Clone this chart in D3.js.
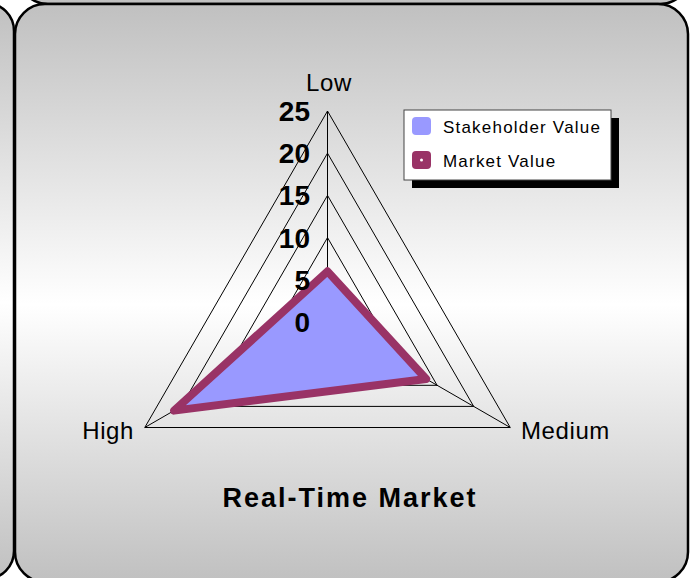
<!DOCTYPE html>
<html lang="en">
<head>
    <meta charset="utf-8">
    <title>Real-Time Market</title>
    <style>
        body { margin: 0; background: #ffffff; }
        svg { display: block; font-family: "Liberation Sans", Arial, sans-serif; }
    </style>
</head>
<body>
    <script src="https://d3js.org/d3.v7.min.js"></script>
    <script>
    // values
    var axes = ["Low", "Medium", "High"];
    var stakeholder = [5.5, 14, 20];
    var market = [6, 13.5, 21];
    var ticks = [0, 5, 10, 15, 20, 25];
    var seriesNames = ["Stakeholder Value", "Market Value"];
    var seriesColors = ["#9999ff", "#993366"];
    var title = "Real-Time Market";

    var size = {"width": 691, "height": 578};
    var center = [327.5, 322];

    var svg = d3.select("body").append("svg")
                .attr("width", size.width)
                .attr("height", size.height);

    var grad = svg.append("defs").append("linearGradient")
                  .attr("id", "bg")
                  .attr("x1", 0).attr("y1", 0)
                  .attr("x2", 0).attr("y2", 1);
    grad.append("stop").attr("offset", "0%").attr("stop-color", "#c0c0c0");
    grad.append("stop").attr("offset", "52%").attr("stop-color", "#ffffff");
    grad.append("stop").attr("offset", "100%").attr("stop-color", "#c0c0c0");

    // neighbouring panels peeking in, then the main one
    var panels = [
        {x: -680, y: 3, w: 694, h: 576, r: 28},
        {x: 18, y: -600, w: 672, h: 604, r: 30},
        {x: 15, y: 4, w: 673, h: 578, r: 30}
    ];
    svg.selectAll(".panel")
        .data(panels)
        .enter()
        .append("rect")
        .attr("class", "panel")
        .attr("x", function(d){return d.x;})
        .attr("y", function(d){return d.y;})
        .attr("width", function(d){return d.w;})
        .attr("height", function(d){return d.h;})
        .attr("rx", function(d){return d.r;})
        .attr("fill", "url(#bg)")
        .attr("stroke", "#000")
        .attr("stroke-width", 2.5);

    var r = d3.scaleLinear().domain([0, 25]).range([0, 211]);
    var angle = d3.scaleLinear().domain([0, axes.length]).range([-Math.PI / 2, 1.5 * Math.PI]);

    function pt(v, i) {
        var a = angle(i);
        return [center[0] + r(v) * Math.cos(a), center[1] + r(v) * Math.sin(a)];
    }

    var chart = svg.append("g");

    // grid triangles
    chart.selectAll(".grid")
        .data(ticks.slice(1))
        .enter()
        .append("path")
        .attr("class", "grid")
        .attr("d", function(t){
            return d3.line()(axes.map(function(a, i){return pt(t, i);})) + "Z";
        })
        .attr("fill", "none")
        .attr("stroke", "#000")
        .attr("stroke-width", 1);

    // spokes
    chart.selectAll(".spoke")
        .data(axes)
        .enter()
        .append("line")
        .attr("class", "spoke")
        .attr("x1", center[0])
        .attr("y1", center[1])
        .attr("x2", function(d, i){return pt(25, i)[0];})
        .attr("y2", function(d, i){return pt(25, i)[1];})
        .attr("stroke", "#000")
        .attr("stroke-width", 1);

    // series
    var polyline = d3.line();
    chart.append("path")
        .attr("d", polyline(stakeholder.map(pt)) + "Z")
        .attr("fill", seriesColors[0])
        .attr("stroke", "none");

    chart.append("path")
        .attr("d", polyline(market.map(pt)) + "Z")
        .attr("fill", "none")
        .attr("stroke", seriesColors[1])
        .attr("stroke-width", 8)
        .attr("stroke-linejoin", "round");

    // tick labels
    chart.selectAll(".tick")
        .data(ticks)
        .enter()
        .append("text")
        .attr("class", "tick")
        .attr("x", 310)
        .attr("y", function(t){return center[1] - r(t);})
        .attr("dy", "0.36em")
        .attr("text-anchor", "end")
        .attr("font-size", 28)
        .attr("font-weight", "bold")
        .text(function(t){return t;});

    // axis labels
    var labelPos = [
        {x: 329, y: 91, anchor: "middle"},
        {x: 521, y: 439, anchor: "start"},
        {x: 134, y: 439, anchor: "end"}
    ];
    chart.selectAll(".axis-label")
        .data(axes)
        .enter()
        .append("text")
        .attr("class", "axis-label")
        .attr("x", function(d, i){return labelPos[i].x;})
        .attr("y", function(d, i){return labelPos[i].y;})
        .attr("text-anchor", function(d, i){return labelPos[i].anchor;})
        .attr("font-size", 24)
        .attr("letter-spacing", 0.6)
        .text(function(d){return d;});

    // title
    svg.append("text")
        .attr("x", 350)
        .attr("y", 507)
        .attr("text-anchor", "middle")
        .attr("font-size", 27)
        .attr("font-weight", "bold")
        .attr("letter-spacing", 2)
        .text(title);

    // legend
    var legend = svg.append("g").attr("transform", "translate(404,110)");
    legend.append("rect")
        .attr("x", 8).attr("y", 8)
        .attr("width", 207).attr("height", 70)
        .attr("fill", "#000");
    legend.append("rect")
        .attr("width", 207).attr("height", 70)
        .attr("fill", "#fff")
        .attr("stroke", "#444")
        .attr("stroke-width", 1);

    var item = legend.selectAll(".item")
        .data(seriesNames)
        .enter()
        .append("g")
        .attr("class", "item")
        .attr("transform", function(d, i){return "translate(8," + (7 + i * 34) + ")";});
    item.append("rect")
        .attr("width", 19).attr("height", 18)
        .attr("rx", 4)
        .attr("fill", function(d, i){return seriesColors[i];});
    item.filter(function(d, i){return i === 1;})
        .append("circle")
        .attr("cx", 9.5).attr("cy", 9)
        .attr("r", 1.5)
        .attr("fill", "#fff");
    item.append("text")
        .attr("x", 31)
        .attr("y", 16)
        .attr("font-size", 17)
        .attr("letter-spacing", 1.2)
        .text(function(d){return d;});
    </script>
</body>
</html>
